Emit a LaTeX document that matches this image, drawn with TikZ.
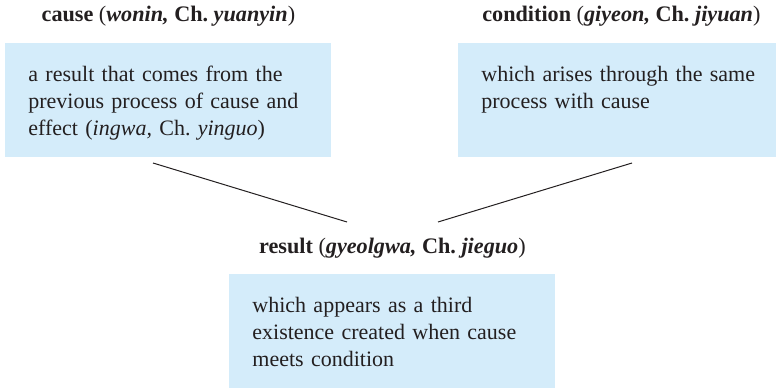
\documentclass[tikz,border=0pt]{standalone}
\usepackage{fontspec}
\setmainfont{Liberation Serif}
\usetikzlibrary{positioning}

\definecolor{boxblue}{RGB}{212,236,250}
\definecolor{inkgray}{RGB}{35,31,32}
\frenchspacing

\begin{document}
\begin{tikzpicture}[
  x=0.5pt, y=-0.5pt,
  box/.style={fill=boxblue, anchor=north west, align=left, text width=140pt, inner xsep=11.5pt, inner ysep=0pt, text height=19pt, text depth=38pt, font=\fontsize{11}{13.5}\selectfont, text=inkgray},
  head/.style={inner sep=0pt, font=\fontsize{11.1}{13}\selectfont\bfseries, text=inkgray},
  link/.style={draw=inkgray, line width=0.5pt}
]
\clip (0,0) rectangle (776,390);

\node[box] (causebox) at (5,43) {a result that comes from the\\previous process of cause and\\effect (\textit{ingwa,} Ch. \textit{yinguo})};
\node[box] (condbox) at (458,43) {which arises through the same\\process with cause};
\node[box] (resbox) at (229,274) {which appears as a third\\existence created when cause\\meets condition};

\node[head, above=10.5pt of causebox.north, anchor=base] (causehead) {cause \textmd{(}\textit{wonin,} Ch. \textit{yuanyin}\textmd{)}};
\node[head, above=10.5pt of condbox.north, anchor=base] (condhead) {condition \textmd{(}\textit{giyeon,} Ch. \textit{jiyuan}\textmd{)}};
\node[head, above=10.5pt of resbox.north, anchor=base] (reshead) {result \textmd{(}\textit{gyeolgwa,} Ch. \textit{jieguo}\textmd{)}};

% lines meeting above the result heading
\coordinate (causefoot) at (153,163);
\coordinate (condfoot) at (632,163);
\coordinate (resleft) at (347,222);
\coordinate (resright) at (438,222);
\draw[link] (causefoot) -- (resleft);
\draw[link] (condfoot) -- (resright);
\end{tikzpicture}
\end{document}
